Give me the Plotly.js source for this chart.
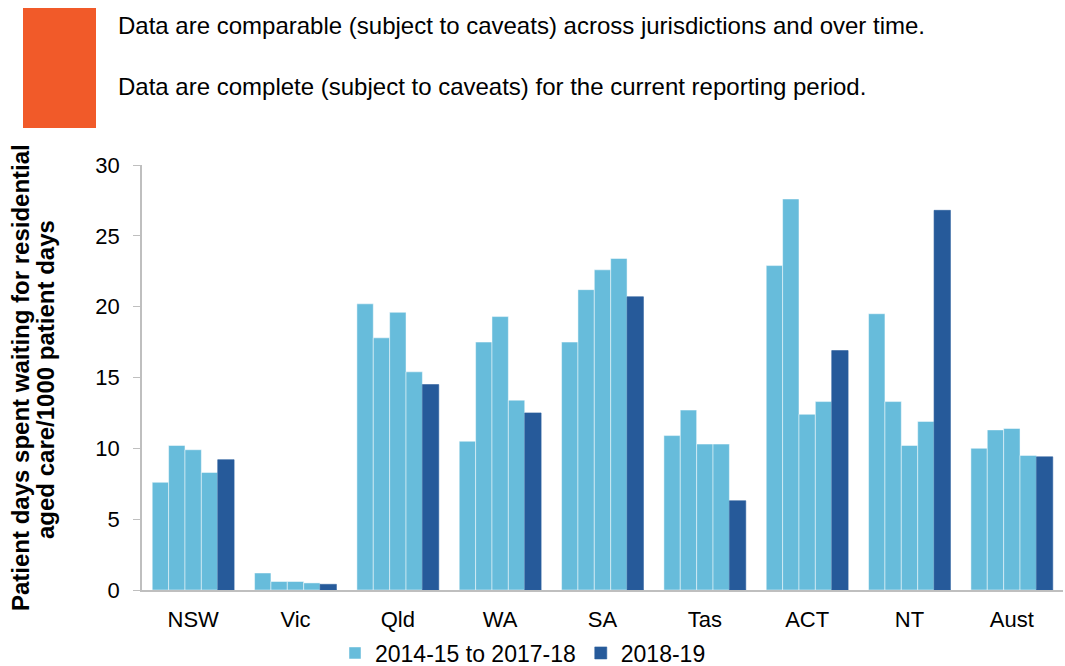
<!DOCTYPE html>
<html>
<head>
<meta charset="utf-8">
<script src="https://cdn.plot.ly/plotly-3.0.1.min.js"></script>
<style>
html,body{margin:0;padding:0;background:#fff;}
#chart{width:1065px;height:666px;}
</style>
</head>
<body>
<div id="chart"></div>
<script>
const categories = ["NSW", "Vic", "Qld", "WA", "SA", "Tas", "ACT", "NT", "Aust"];
const y2014_15 = [7.6, 1.2, 20.2, 10.5, 17.5, 10.9, 22.9, 19.5, 10.0];
const y2015_16 = [10.2, 0.6, 17.8, 17.5, 21.2, 12.7, 27.6, 13.3, 11.3];
const y2016_17 = [9.9, 0.6, 19.6, 19.3, 22.6, 10.3, 12.4, 10.2, 11.4];
const y2017_18 = [8.3, 0.5, 15.4, 13.4, 23.4, 10.3, 13.3, 11.9, 9.5];
const y2018_19 = [9.2, 0.4, 14.5, 12.5, 20.7, 6.3, 16.9, 26.8, 9.4];
const seriesNames = ["2014-15 to 2017-18", "2018-19"];
const yTicks = [0, 5, 10, 15, 20, 25, 30];
const yTitleLines = ["Patient days spent waiting for residential", "aged care/1000 patient days"];

const lightColor = "#67BCDB";
const darkColor = "#265A9A";
const font = "Liberation Sans, Arial, sans-serif";

const lightSets = [y2014_15, y2015_16, y2016_17, y2017_18];
const traces = lightSets.map((vals, i) => ({
  type: "bar",
  x: categories,
  y: vals,
  name: seriesNames[0],
  legendgroup: "light",
  showlegend: i === 0,
  marker: {color: lightColor, line: {color: "rgba(255,255,255,0.6)", width: 0.8}},
  hoverinfo: "x+y"
}));
traces.push({
  type: "bar",
  x: categories,
  y: y2018_19,
  name: seriesNames[1],
  legendgroup: "dark",
  marker: {color: darkColor, line: {color: "#2b5f9e", width: 0.6}},
  hoverinfo: "x+y"
});

// plot area: x 142..1063, y 165..590
const L = 142, R = 1063, T = 165, B = 590;
const W = R - L, H = B - T;
const px = v => (v - L) / W;
const py = v => (B - v) / H;

const layout = {
  width: 1065,
  height: 666,
  margin: {l: L, r: 1065 - R, t: T, b: 666 - B, pad: 0, autoexpand: false},
  paper_bgcolor: "#fff",
  plot_bgcolor: "#fff",
  barmode: "group",
  bargap: 0.2,
  bargroupgap: 0,
  font: {family: font, size: 22, color: "#000"},
  xaxis: {
    type: "category",
    showline: true,
    linecolor: "#bfbfbf",
    linewidth: 1.5,
    ticks: "",
    showgrid: false,
    zeroline: false,
    automargin: false,
    tickfont: {family: font, size: 22, color: "#000"},
    ticklabelstandoff: 9
  },
  yaxis: {
    range: [0, 30],
    tickvals: yTicks,
    showline: true,
    linecolor: "#bfbfbf",
    linewidth: 1.5,
    ticks: "outside",
    ticklen: 7,
    tickcolor: "#bfbfbf",
    showgrid: false,
    zeroline: false,
    automargin: false,
    tickfont: {family: font, size: 22, color: "#000"},
    ticklabelstandoff: 9
  },
  legend: {
    orientation: "h",
    x: px(335),
    xanchor: "left",
    y: py(653),
    yanchor: "middle",
    font: {family: font, size: 23, color: "#000"},
    itemwidth: 30,
    traceorder: "normal",
    bgcolor: "rgba(0,0,0,0)"
  },
  shapes: [
    {type: "rect", xref: "paper", yref: "paper",
     x0: px(23), x1: px(96), y0: py(128), y1: py(8),
     fillcolor: "#F15A29", line: {width: 0}}
  ],
  annotations: [
    {xref: "paper", yref: "paper", x: px(116), y: py(25), xanchor: "left", yanchor: "middle",
     text: "Data are comparable (subject to caveats) across jurisdictions and over time.",
     showarrow: false, font: {family: font, size: 24, color: "#000"}},
    {xref: "paper", yref: "paper", x: px(116), y: py(86), xanchor: "left", yanchor: "middle",
     text: "Data are complete (subject to caveats) for the current reporting period.",
     showarrow: false, font: {family: font, size: 24, color: "#000"}},
    {xref: "paper", yref: "paper", x: px(20), y: py(378), xanchor: "center", yanchor: "middle",
     textangle: -90, text: "<b>" + yTitleLines[0] + "</b>",
     showarrow: false, font: {family: font, size: 24, color: "#000"}},
    {xref: "paper", yref: "paper", x: px(45), y: py(380), xanchor: "center", yanchor: "middle",
     textangle: -90, text: "<b>" + yTitleLines[1] + "</b>",
     showarrow: false, font: {family: font, size: 24, color: "#000"}}
  ]
};

Plotly.newPlot("chart", traces, layout, {displayModeBar: false, responsive: false});
</script>
</body>
</html>
